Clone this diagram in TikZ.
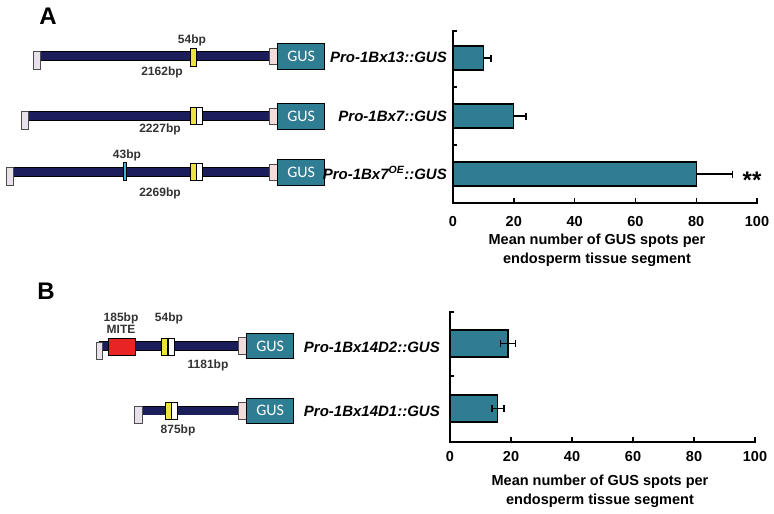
\documentclass[tikz,border=0pt]{standalone}
\usepackage{fontspec}
\setmainfont{Liberation Sans}
\newfontfamily\gusfont{Carlito}
\usepackage{tikz}
\usetikzlibrary{positioning, backgrounds}

\definecolor{navyline}{RGB}{28,30,92}
\definecolor{gusteal}{RGB}{47,125,146}
\definecolor{utrpink}{RGB}{242,220,220}
\definecolor{endlav}{RGB}{232,224,234}
\definecolor{boxyellow}{RGB}{236,228,60}
\definecolor{boxcyan}{RGB}{64,180,216}
\definecolor{mitered}{RGB}{232,36,36}

\begin{document}
\begin{tikzpicture}[x=1pt, y=-1pt,
    endbox/.style={rectangle, draw=black!70, line width=0.6pt, fill=endlav,
      minimum width=7pt, minimum height=17pt, inner sep=0pt},
    utrbox/.style={rectangle, draw=black!70, line width=0.6pt, fill=utrpink,
      minimum width=8pt, minimum height=16pt, inner sep=0pt},
    gusbox/.style={rectangle, draw=black, line width=0.7pt, fill=gusteal,
      minimum width=47pt, minimum height=26pt, inner sep=0pt, text=white,
      font=\gusfont\fontsize{16}{18}\selectfont},
    motif/.style={rectangle, draw=black, line width=0.6pt, fill=boxyellow,
      minimum width=6pt, minimum height=17pt, inner sep=0pt},
    blank/.style={motif, fill=white},
    backbone/.style={draw=black, line width=0.7pt, double=navyline,
      double distance=8pt},
    bplabel/.style={inner sep=0pt, font=\fontsize{12}{14}\selectfont\bfseries,
      text=black!80},
    construct/.style={inner sep=0pt, anchor=east,
      font=\fontsize{15}{17}\selectfont\bfseries\itshape},
    panel/.style={inner sep=0pt, font=\fontsize{24}{26}\selectfont\bfseries},
    axisline/.style={draw=black, line width=1.4pt},
    bar/.style={draw=black, line width=1.2pt, fill=gusteal},
    errbar/.style={draw=black, line width=1.2pt},
    ticklabel/.style={inner sep=0pt, font=\fontsize{14.5}{16}\selectfont\bfseries},
    axistitle/.style={inner sep=0pt, align=center,
      font=\fontsize{14.5}{19}\selectfont\bfseries}]
  \useasboundingbox (0,0) rectangle (774,514);

  % Panel A: constructs
  \node[panel] (labA) at (48,16) {A};

  \node[endbox, minimum height=17.5pt] (a1l) at (36.5,60.25) {};
  \node[motif, minimum height=18pt] (a1y) at (193,57) {};
  \node[utrbox] (a1u) at (273,56) {};
  \node[gusbox] (a1g) [right=0pt of a1u] {GUS};
  \node[bplabel] (a1m) at (192,40) {54bp};
  \node[bplabel] (a1b) at (162,72) {2162bp};
  \node[construct] (a1n) at (447,57) {Pro-1Bx13::GUS};

  \node[endbox, minimum height=17.5pt] (a2l) at (24.5,120.25) {};
  \node[motif] (a2y) at (193,115.5) {};
  \node[blank] (a2w) [right=0pt of a2y] {};
  \node[utrbox] (a2u) at (273,116) {};
  \node[gusbox] (a2g) [right=0pt of a2u] {GUS};
  \node[bplabel] (a2b) at (160,129) {2227bp};
  \node[construct] (a2n) at (447,116) {Pro-1Bx7::GUS};

  \node[endbox, minimum height=17.5pt] (a3l) at (9.5,176.25) {};
  \node[motif, fill=boxcyan, minimum width=3.5pt, minimum height=18pt] (a3c) at (125,171) {};
  \node[motif] (a3y) at (193,171.5) {};
  \node[blank] (a3w) [right=0pt of a3y] {};
  \node[utrbox] (a3u) at (273,172) {};
  \node[gusbox] (a3g) [right=0pt of a3u] {GUS};
  \node[bplabel] (a3m) at (127,155) {43bp};
  \node[bplabel] (a3b) at (160,193) {2269bp};
  \node[construct] (a3n) at (447,173) {Pro-1Bx7\textsuperscript{OE}::GUS};

  % Panel B: constructs
  \node[panel] (labB) at (46,291) {B};

  \node[endbox, minimum width=6pt, minimum height=16.5pt] (b1l) at (99,350.75) {};
  \node[motif, fill=mitered, minimum width=27pt] (b1r) at (121.5,346.5) {};
  \node[motif, minimum width=5.5pt] (b1y) at (164.5,346.5) {};
  \node[blank] (b1w) [right=0pt of b1y] {};
  \node[utrbox, minimum height=17pt] (b1u) at (242,346) {};
  \node[gusbox, minimum height=25pt] (b1g) [right=0pt of b1u] {GUS};
  \node[bplabel] (b1s) at (121,318) {185bp};
  \node[bplabel] (b1t) at (121,329) {MITE};
  \node[bplabel] (b1m) at (169,318) {54bp};
  \node[bplabel] (b1b) at (208,365) {1181bp};
  \node[construct] (b1n) at (440,347) {Pro-1Bx14D2::GUS};

  \node[endbox, minimum width=8pt, minimum height=17pt] (b2l) at (138,415) {};
  \node[motif] (b2y) at (168,410.5) {};
  \node[blank] (b2w) [right=0pt of b2y] {};
  \node[utrbox, minimum height=17pt] (b2u) at (242,410.5) {};
  \node[gusbox, minimum height=25pt] (b2g) [right=0pt of b2u] {GUS};
  \node[bplabel] (b2b) at (178,430) {875bp};
  \node[construct] (b2n) at (440,411) {Pro-1Bx14D1::GUS};

  % Lines
  \begin{scope}[on background layer]
    \draw[backbone] (a1l.center |- a1u.center) -- (a1u.center);
    \draw[backbone] (a2l.center |- a2u.center) -- (a2u.center);
    \draw[backbone] (a3l.center |- a3u.center) -- (a3u.center);
    \draw[backbone] (b1l.center |- b1u.center) -- (b1u.center);
    \draw[backbone] (b2l.center |- b2u.center) -- (b2u.center);
  \end{scope}

  % Chart A
  \foreach \ya/\val/\err in {46/10/12.5, 104/20/24, 162/80/92} {
    \draw[bar] (453,\ya) rectangle ({453+3.04*\val},\ya+24);
    \draw[errbar] ({453+3.04*\val},\ya+12) -- ({453+3.04*\err},\ya+12);
    \draw[errbar] ({453+3.04*\err},\ya+8.5) -- ({453+3.04*\err},\ya+15.5);
  }
  \draw[axisline] (457,31) -- (453,31) -- (453,203) -- (758,203);
  \foreach \t in {87,145} \draw[axisline] (453,\t) -- ++(4,0);
  \foreach \v in {0,20,...,100} {
    \draw[axisline] ({453+3.04*\v},203) -- ++(0,-5);
    \node[ticklabel] at ({453+3.04*\v},222) {\v};
  }
  \node[inner sep=0pt, font=\fontsize{24}{26}\selectfont\bfseries] (stars) at (752,180) {**};
  \node[axistitle] (titA) at (597,250.5) {Mean number of GUS spots per\\endosperm tissue segment};

  % Chart B
  \foreach \ya/\val/\lo/\hi in {330/19/16.5/21.5, 395/15.7/13.8/17.7} {
    \draw[bar] (450,\ya) rectangle ({450+3.05*\val},\ya+27);
    \draw[errbar] ({450+3.05*\lo},\ya+13.5) -- ({450+3.05*\hi},\ya+13.5);
    \draw[errbar] ({450+3.05*\lo},\ya+10) -- ({450+3.05*\lo},\ya+17);
    \draw[errbar] ({450+3.05*\hi},\ya+10) -- ({450+3.05*\hi},\ya+17);
  }
  \draw[axisline] (454,312) -- (450,312) -- (450,442) -- (756,442);
  \draw[axisline] (450,376) -- ++(4,0);
  \foreach \v in {0,20,...,100} {
    \draw[axisline] ({450+3.05*\v},442) -- ++(0,-5);
    \node[ticklabel] at ({450+3.05*\v},457) {\v};
  }
  \node[axistitle] (titB) at (600,491) {Mean number of GUS spots per\\endosperm tissue segment};
\end{tikzpicture}
\end{document}
